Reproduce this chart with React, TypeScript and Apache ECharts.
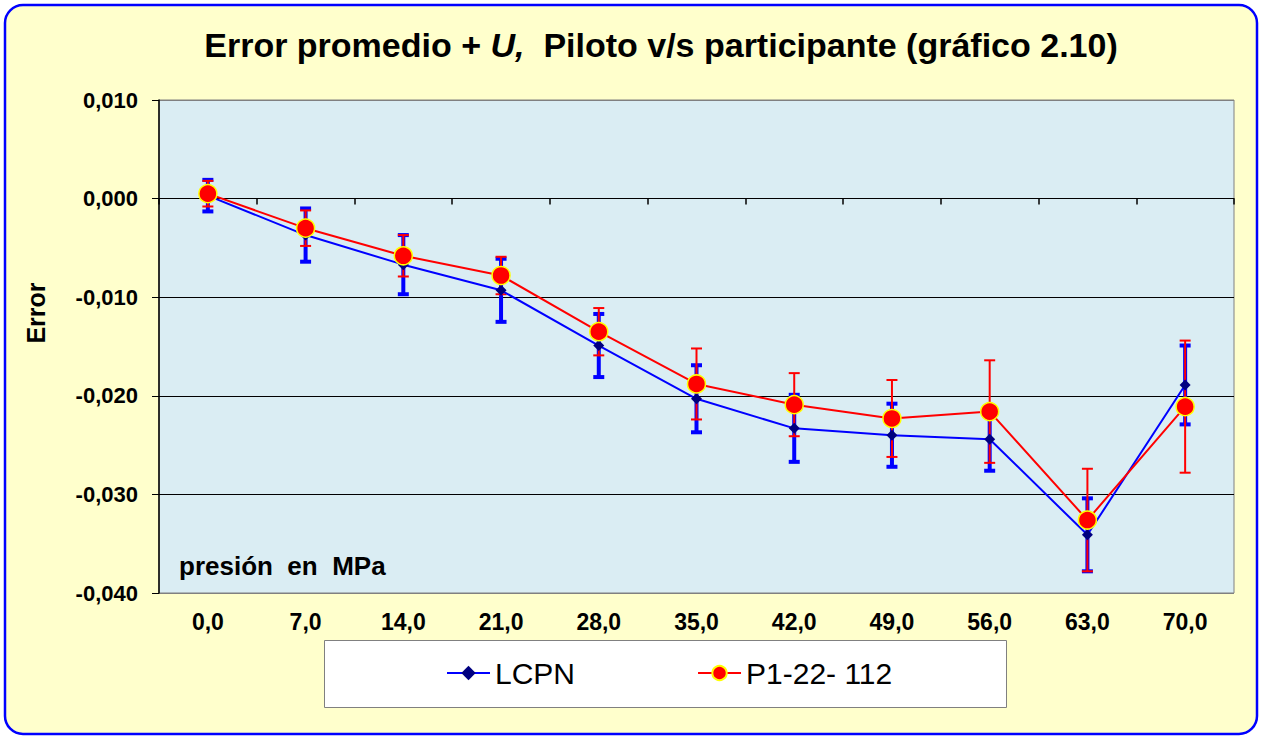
import { useEffect, useRef } from 'react';
import * as echarts from 'echarts';

const categories = ['0,0', '7,0', '14,0', '21,0', '28,0', '35,0', '42,0', '49,0', '56,0', '63,0', '70,0'];
const lcpnValues = [0.0003, -0.0037, -0.0067, -0.0093, -0.0149, -0.0203, -0.0233, -0.024, -0.0244, -0.0341, -0.0189];
const lcpnU = [0.0016, 0.0027, 0.003, 0.0032, 0.0032, 0.0034, 0.0034, 0.0032, 0.0032, 0.0037, 0.004];
const p1Values = [0.0005, -0.003, -0.0058, -0.0078, -0.0135, -0.0188, -0.0209, -0.0223, -0.0216, -0.0326, -0.0211];
const p1U = [0.0013, 0.0018, 0.0021, 0.0019, 0.0024, 0.0036, 0.0032, 0.0039, 0.0052, 0.0052, 0.0067];
const seriesNames = ['LCPN', 'P1-22- 112'];

const FONT = '"Liberation Sans", Arial, Helvetica, sans-serif';

function makeErrRender(color: string, barW: number, capW: number, capT: number) {
  return (params: any, api: any) => {
    const xi = api.value(0);
    const lo = api.coord([xi, api.value(1)]);
    const hi = api.coord([xi, api.value(2)]);
    const x = lo[0];
    return {
      type: 'group',
      children: [
        { type: 'rect', shape: { x: x - barW / 2, y: hi[1], width: barW, height: lo[1] - hi[1] }, style: { fill: color } },
        { type: 'rect', shape: { x: x - capW / 2, y: hi[1] - capT / 2, width: capW, height: capT }, style: { fill: color } },
        { type: 'rect', shape: { x: x - capW / 2, y: lo[1] - capT / 2, width: capW, height: capT }, style: { fill: color } },
      ],
    };
  };
}

export default function App() {
  const ref = useRef<HTMLDivElement>(null);
  useEffect(() => {
    if (!ref.current) return;
    const chart = echarts.init(ref.current, null, { renderer: 'svg' });
    const blueErr = categories.map((_, i) => [i, lcpnValues[i] - lcpnU[i], lcpnValues[i] + lcpnU[i]]);
    const redErr = categories.map((_, i) => [i, p1Values[i] - p1U[i], p1Values[i] + p1U[i]]);
    const option: any = {
      animation: false,
      backgroundColor: '#FFFFFF',
      textStyle: { fontFamily: FONT },
      title: {
        text: '{b|Error promedio + }{i|U,}{b|  Piloto v/s participante (gráfico 2.10)}',
        left: 656,
        top: 23,
        textAlign: 'center',
        textStyle: {
          rich: {
            b: { fontSize: 34, fontWeight: 'bold', fontFamily: FONT, color: '#000' },
            i: { fontSize: 34, fontWeight: 'bold', fontStyle: 'italic', fontFamily: FONT, color: '#000' },
          },
        },
      },
      graphic: [
        {
          type: 'rect',
          z: -10,
          silent: true,
          shape: { x: 5, y: 5, width: 1252, height: 729, r: 18 },
          style: { fill: '#FFFFCC', stroke: '#0000FF', lineWidth: 2.5 },
        },
        {
          type: 'rect',
          z: 1,
          silent: true,
          shape: { x: 324.5, y: 640.5, width: 682, height: 67 },
          style: { fill: '#FFFFFF', stroke: '#808080', lineWidth: 1 },
        },
        {
          type: 'text',
          z: 10,
          x: 36,
          y: 313,
          rotation: Math.PI / 2,
          style: {
            text: 'Error',
            font: `bold 25px ${FONT}`,
            fill: '#000',
            align: 'center',
            verticalAlign: 'middle',
          },
        },
        {
          type: 'text',
          z: 10,
          x: 179,
          y: 566,
          style: {
            text: 'presión  en  MPa',
            font: `bold 26px ${FONT}`,
            fill: '#000',
            align: 'left',
            verticalAlign: 'middle',
          },
        },
      ],
      legend: {
        data: seriesNames,
        left: 446,
        top: 658,
        padding: 0,
        itemWidth: 43,
        itemHeight: 18,
        itemGap: 122,
        textStyle: { fontSize: 30, fontFamily: FONT, color: '#000' },
      },
      grid: {
        left: 159,
        top: 100,
        width: 1075,
        height: 493,
        show: true,
        backgroundColor: '#DAEDF3',
        borderColor: '#808080',
        borderWidth: 1,
      },
      xAxis: [
        {
          type: 'category',
          data: categories,
          position: 'bottom',
          axisLine: { show: false, onZero: false },
          axisTick: { show: false },
          axisLabel: { fontSize: 23, fontWeight: 'bold', fontFamily: FONT, color: '#000', margin: 17 },
          splitLine: { show: false },
        },
        {
          type: 'category',
          data: categories,
          position: 'bottom',
          axisLine: { show: true, onZero: true, lineStyle: { color: '#000', width: 1 } },
          axisTick: { show: true, length: 6, lineStyle: { color: '#000', width: 1.5 } },
          axisLabel: { show: false },
          splitLine: { show: false },
        },
      ],
      yAxis: {
        type: 'value',
        min: -0.04,
        max: 0.01,
        interval: 0.01,
        axisLine: { show: true, onZero: false, lineStyle: { color: '#000', width: 1.5 } },
        axisTick: { show: true, length: 7, lineStyle: { color: '#000', width: 1 } },
        axisLabel: {
          fontSize: 22,
          fontWeight: 'bold',
          fontFamily: FONT,
          color: '#000',
          margin: 21,
          formatter: (v: number) => {
            const r = Math.round(v * 1000) / 1000;
            if (r === 0) return '0,000';
            return r.toFixed(3).replace('.', ',');
          },
        },
        splitLine: {
          show: true,
          lineStyle: { color: ['#808080', '#000', '#000', '#000', '#000', '#808080'], width: 1 },
        },
      },
      series: [
        {
          name: 'errLCPN',
          type: 'custom',
          z: 2,
          renderItem: makeErrRender('#0000FF', 4, 11, 4),
          encode: { x: 0, y: [1, 2] },
          data: blueErr,
          silent: true,
        },
        {
          name: 'errP1',
          type: 'custom',
          z: 3,
          renderItem: makeErrRender('#FF0000', 2, 11, 2),
          encode: { x: 0, y: [1, 2] },
          data: redErr,
          silent: true,
        },
        {
          name: seriesNames[0],
          type: 'line',
          z: 4,
          data: lcpnValues,
          symbol: 'diamond',
          symbolSize: 11,
          itemStyle: { color: '#000080' },
          lineStyle: { color: '#0000FF', width: 2 },
        },
        {
          name: seriesNames[1],
          type: 'line',
          z: 5,
          data: p1Values,
          symbol: 'circle',
          symbolSize: 18,
          itemStyle: { color: '#FF0000', borderColor: '#FFFF00', borderWidth: 1.5 },
          lineStyle: { color: '#FF0000', width: 2 },
        },
      ],
    };
    chart.setOption(option);
    return () => chart.dispose();
  }, []);
  return (
    <div
      ref={ref}
      style={{ position: 'fixed', left: 0, top: 0, width: 1261, height: 736 }}
    />
  );
}
